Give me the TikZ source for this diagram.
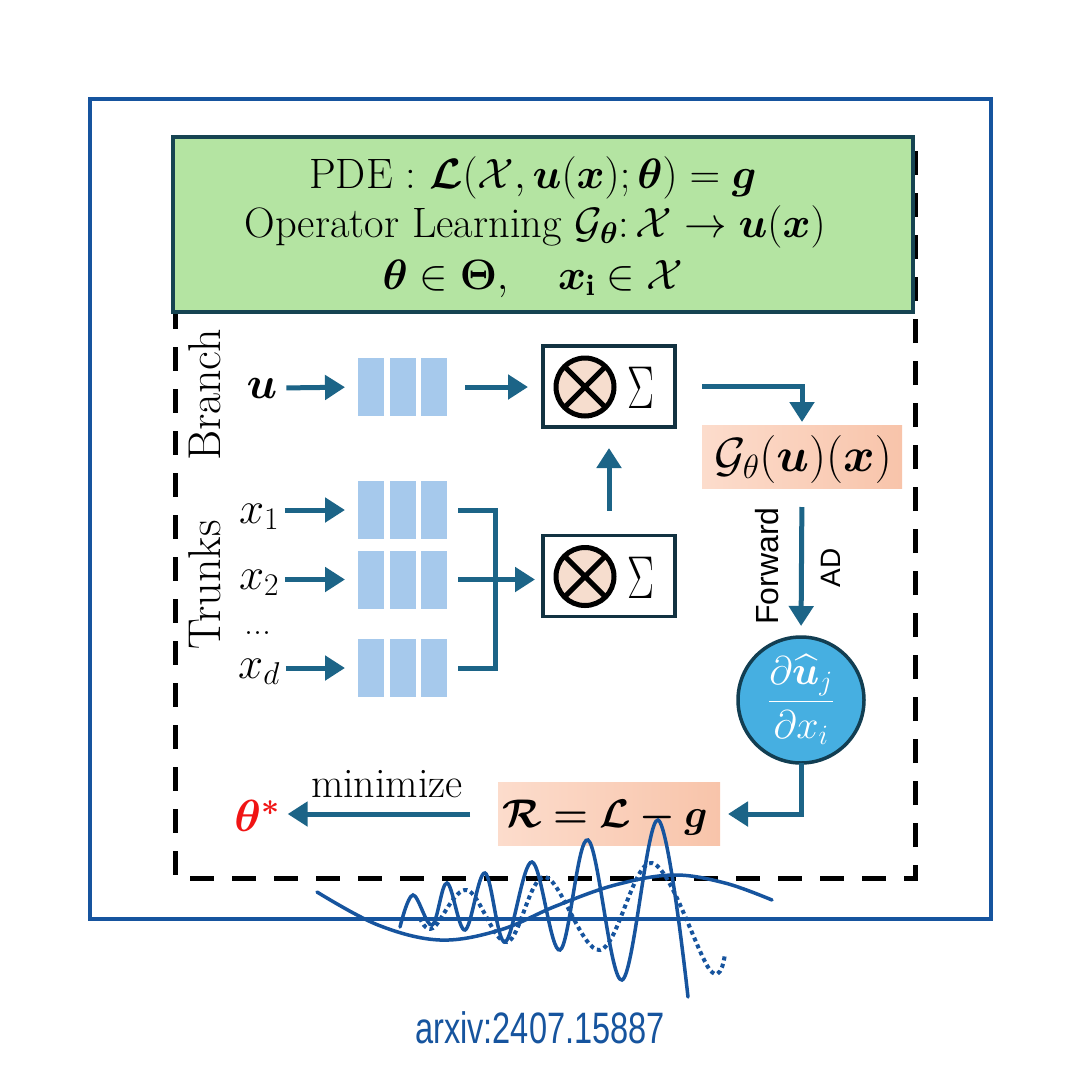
\RequirePackage{fix-cm}
\documentclass[tikz,border=0pt]{standalone}
\usepackage{amsmath,amssymb}
\usepackage{bm}
\usepackage{fontspec}
\newfontfamily\sansf{Liberation Sans}
\newfontfamily\arxivfont[FakeStretch=0.74]{Liberation Sans}
\usetikzlibrary{arrows.meta,calc}
\definecolor{frameblue}{RGB}{22,84,158}
\definecolor{arrowc}{RGB}{28,100,135}
\definecolor{boxdark}{RGB}{18,50,65}
\definecolor{greenfill}{RGB}{180,228,162}
\definecolor{greenborder}{RGB}{22,68,82}
\definecolor{blockblue}{RGB}{166,201,236}
\definecolor{peachL}{RGB}{252,220,204}
\definecolor{peachR}{RGB}{248,196,170}
\definecolor{otimesfill}{RGB}{246,221,206}
\definecolor{circblue}{RGB}{70,175,225}
\definecolor{circborder}{RGB}{18,62,82}
\definecolor{thetared}{RGB}{240,20,20}
\tikzset{
  lbl/.style={inner sep=3pt, outer sep=0pt, font=\fontsize{45}{52}\selectfont},
  pdeline/.style={inner sep=0pt, anchor=base, text height=30pt, text depth=9pt, font=\fontsize{42.5}{48}\selectfont},
  arr/.style={draw=arrowc, line width=5pt, -{Triangle[length=20pt,width=24pt]}},
  ln/.style={draw=arrowc, line width=5pt},
  blk/.style={fill=blockblue, draw=none, minimum width=26pt, minimum height=58pt, inner sep=0pt, outer sep=0pt},
  opbox/.style={draw=boxdark, line width=3.5pt, fill=white, minimum width=132pt, minimum height=81pt, inner sep=0pt, outer sep=0pt},
  otimes/.style={circle, draw=black, line width=5pt, fill=otimesfill, minimum size=58pt, inner sep=0pt, outer sep=0pt},
  sigma/.style={inner sep=0pt, font=\fontsize{56}{60}\selectfont},
  peachbox/.style={left color=peachL, right color=peachR, draw=none, inner sep=0pt, outer sep=0pt},
  wave/.style={draw=frameblue, line width=3.5pt, line cap=round, smooth, tension=0.6},
}
\begin{document}
\begin{tikzpicture}[x=1pt,y=-1pt]
\fill[white] (0,0) rectangle (1080,1080);
\useasboundingbox (0,0) rectangle (1080,1080);

% outer frame
\draw[frameblue, line width=3.5pt] (90,99) rectangle (991,919);

% dashed region
\draw[black, line width=5pt, dash pattern=on 24pt off 18pt] (175,137) rectangle (915,878);

% green header
\node[draw=greenborder, fill=greenfill, line width=4pt, minimum width=740pt, minimum height=175pt, inner sep=0pt] (pde) at (543,224.5) {};
\node[pdeline] (l1) at (533,188) {PDE : $\bm{\mathcal{L}}(\mathcal{X}, \bm{u}(\bm{x}); \bm{\theta}) = \bm{g}$};
\node[pdeline] (l2) at (535,237) {Operator Learning $\mathcal{G}_{\bm{\theta}}{:}\,\mathcal{X} \rightarrow \bm{u}(\bm{x})$};
\node[pdeline] (l3) at (533,289) {$\bm{\theta} \in \bm{\Theta},\quad \bm{x}_{\mathbf{i}} \in \mathcal{X}$};

% side labels
\node[lbl, rotate=90, font=\fontsize{46}{52}\selectfont] (branch) at (205,395) {Branch};
\node[lbl, rotate=90, font=\fontsize{46}{52}\selectfont] (trunks) at (205,585) {Trunks};

% branch row
\node[lbl] (u) at (262,388) {$\bm{u}$};
\node[blk] (b1) at (371,387) {};
\node[blk] (b2) at (402.5,387) {};
\node[blk] (b3) at (434,387) {};

% trunk rows
\node[lbl, anchor=base] (x1) at (259,523) {$x_1$};
\node[lbl, anchor=base] (x2) at (259,589) {$x_2$};
\node[lbl, anchor=base, font=\fontsize{36}{36}\selectfont] (dots) at (258,634) {...};
\node[lbl, anchor=base] (xd) at (259,678) {$x_d$};

\node[blk] (t11) at (371,510) {};
\node[blk] (t12) at (402.5,510) {};
\node[blk] (t13) at (434,510) {};
\node[blk] (t21) at (371,579.5) {};
\node[blk] (t22) at (402.5,579.5) {};
\node[blk] (t23) at (434,579.5) {};
\node[blk] (td1) at (371,668) {};
\node[blk] (td2) at (402.5,668) {};
\node[blk] (td3) at (434,668) {};

% operator boxes
\node[opbox] (opT) at (609,386.5) {};
\node[otimes] (c1) at (585,387) {};
\draw[line width=5pt] (c1.north west) -- (c1.south east) (c1.north east) -- (c1.south west);
\node[sigma] (s1) at (641,388) {\scalebox{0.72}[1.08]{$\Sigma$}};

\node[opbox] (opB) at (609,576) {};
\node[otimes] (c2) at (585,576.5) {};
\draw[line width=5pt] (c2.north west) -- (c2.south east) (c2.north east) -- (c2.south west);
\node[sigma] (s2) at (641,577.5) {\scalebox{0.72}[1.08]{$\Sigma$}};

% output G box
\node[peachbox, minimum width=200pt, minimum height=63pt] (G) at (802,456.5) {};
\node[lbl, font=\fontsize{48}{54}\selectfont] (Gt) at (803,459) {$\mathcal{G}_{\theta}(\bm{u})(\bm{x})$};

% derivative circle
\node[circle, fill=circblue, draw=circborder, line width=3.5pt, minimum size=126pt, inner sep=0pt, outer sep=0pt, text=white, font=\fontsize{40}{46}\selectfont] (D) at (801,700) {$\dfrac{\partial \widehat{\bm{u}}_j}{\partial x_i}$};

% residual box
\node[peachbox, minimum width=222pt, minimum height=63pt] (R) at (609,814) {};
\node[lbl, font=\fontsize{40}{48}\selectfont] (Rt) at (605,818) {$\bm{\mathcal{R} = \mathcal{L} - g}$};

% theta star
\node[lbl, text=thetared] (th) at (257,816) {$\bm{\theta}^{\bm{*}}$};
\node[lbl, font=\fontsize{42}{48}\selectfont] (mini) at (387,784) {minimize};

% arrows
\draw[arr, shorten <=6pt, shorten >=13pt] (u.east) -- (b1.west);
\draw[arr, shorten <=18pt, shorten >=15pt] (b3.east) -- (opT.west |- b3.east);
\draw[arr, shorten <=3pt, shorten >=13pt] (x1.east |- t11.west) -- (t11.west);
\draw[arr, shorten <=3pt, shorten >=13pt] (x2.east |- t21.west) -- (t21.west);
\draw[arr, shorten <=3pt, shorten >=13pt] (xd.east |- td1.west) -- (td1.west);
\coordinate (j) at (495,579.5);
\draw[ln] ([xshift=11pt]t13.east) -| (j);
\draw[ln] ([xshift=11pt]td3.east) -| (j);
\draw[arr, shorten >=8pt] ([xshift=11pt]t23.east) -- (opB.west |- t23.east);
\draw[arr, shorten <=25pt, shorten >=21pt] (opB.north) -- (opT.south);
\draw[arr, shorten >=3pt] ([xshift=27pt]opT.east) -| (G.north);
\draw[arr, shorten <=19pt, shorten >=11pt] (G.south) -- (D.north);
\draw[arr, shorten >=8pt] (D.south) |- (R.east);
\draw[arr, shorten >=5pt] ([xshift=-28pt]R.west) -- (th.east |- R.west);

\node[inner sep=0pt, rotate=90, font=\sansf\fontsize{32}{34}\selectfont] (fw) at (767,566) {Forward};
\node[inner sep=0pt, rotate=90, font=\sansf\fontsize{28}{30}\selectfont] (ad) at (831,568) {AD};

% decorative waves
\draw[wave] plot coordinates {(317,892) (378,925) (440,940) (500,930) (556,906) (615,885) (673,875) (725,883) (772,900)};
\draw[wave] plot coordinates {(400,927) (413,895) (432,925) (447,883) (465,930) (485,873) (505,942) (532,862) (560,950) (588,840) (622,980) (658,820) (688,997)};
\draw[wave, line cap=butt, dash pattern=on 4pt off 3.5pt, line width=4pt] plot coordinates {(420,918) (433,928) (467,890) (507,942) (545,877) (600,950) (652,863) (710,970) (725,953)};

\node[inner sep=0pt, text=frameblue, font=\arxivfont\fontsize{44}{48}\selectfont] (arxiv) at (540,1028) {arxiv:2407.15887};
\end{tikzpicture}
\end{document}
